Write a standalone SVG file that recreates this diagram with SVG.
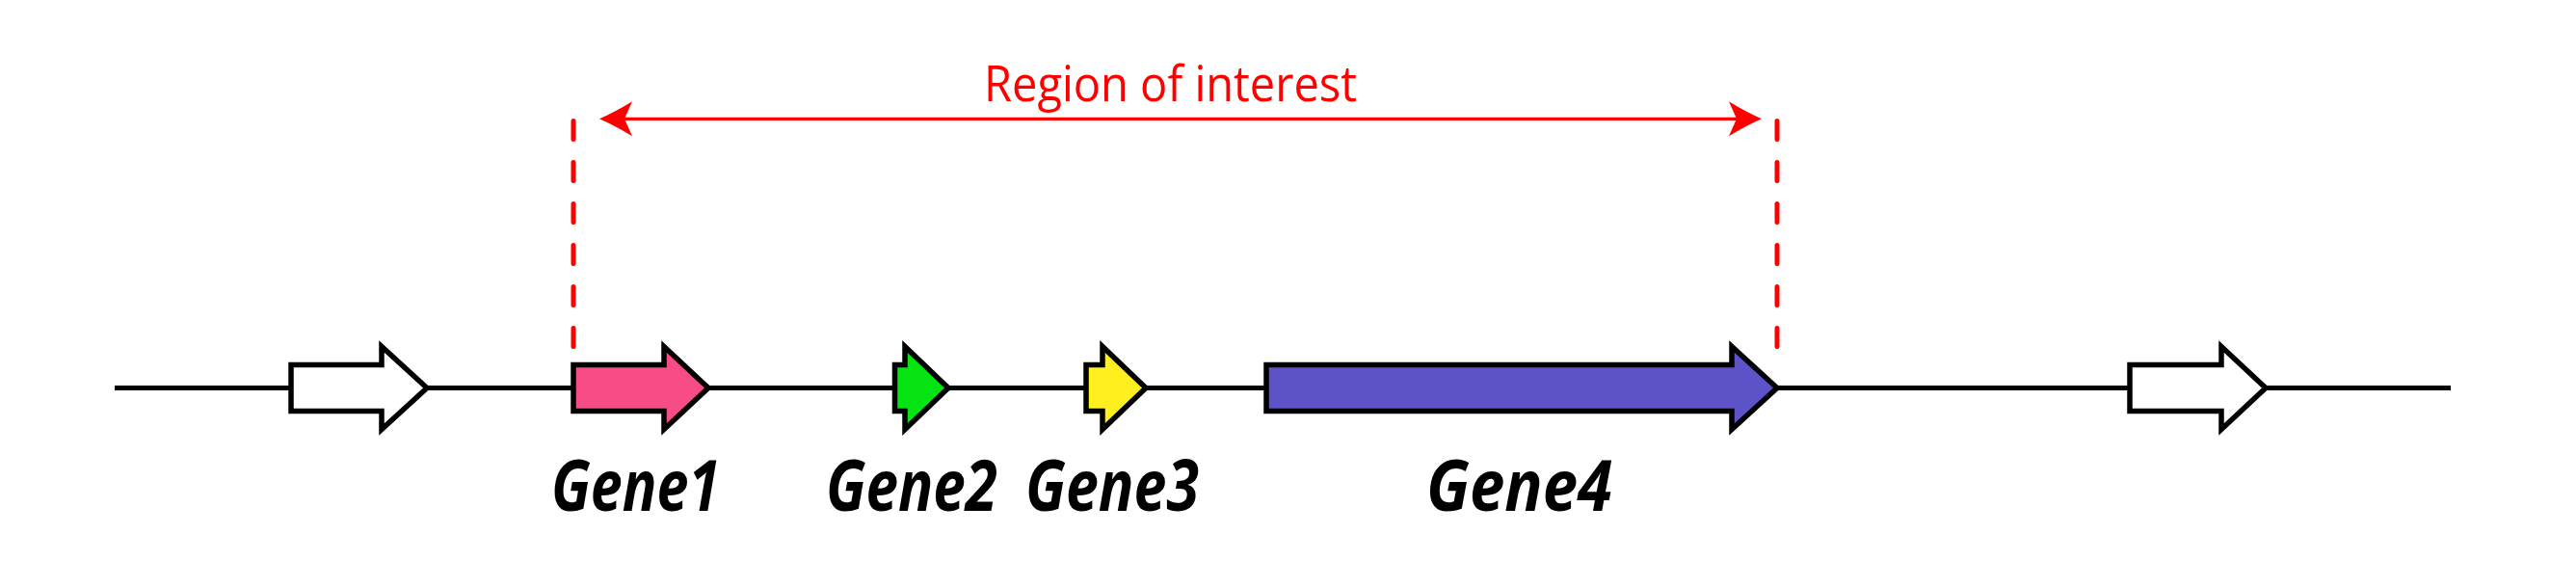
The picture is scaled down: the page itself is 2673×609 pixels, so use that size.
<svg xmlns="http://www.w3.org/2000/svg" width="2673" height="609" viewBox="0 0 2673 609">
  <style>
    .gene { stroke: #000; stroke-width: 5.5; stroke-linejoin: miter; stroke-miterlimit: 10; }
    .white { fill: #FFFFFF; }
    .pink { fill: #F84C86; }
    .green { fill: #05E312; }
    .yellow { fill: #FFEF1E; }
    .purple { fill: #5E52C8; }
    .backbone { stroke: #000; stroke-width: 5; fill: none; }
    .dash { stroke: #FF0000; stroke-width: 5; stroke-linecap: round; stroke-dasharray: 19 24; fill: none; }
    .dim { stroke: #FF0000; stroke-width: 3.3; fill: none; }
    .label { font-family: "Open Sans", "Noto Sans", "DejaVu Sans", sans-serif; font-style: italic; font-weight: 700; font-size: 73px; fill: #000; }
    .title { font-family: "Open Sans", "Noto Sans", "Liberation Sans", sans-serif; font-size: 52px; fill: #FF0000; }
  </style>
  <defs>
    <marker id="redHead" markerUnits="userSpaceOnUse" orient="auto-start-reverse" refX="0" refY="0" markerWidth="40" markerHeight="40" overflow="visible">
      <path d="M26,0 Q10,-7 -8,-18 L0,0 L-8,18 Q10,7 26,0 Z" fill="#FF0000"/>
    </marker>
  </defs>
  <rect width="2673" height="609" fill="#FFFFFF"/>

  <g id="connectors">
    <line class="backbone" x1="119" y1="402.5" x2="2543" y2="402.5"/>
    <line class="dim" x1="648" y1="123.3" x2="1802" y2="123.3" marker-start="url(#redHead)" marker-end="url(#redHead)"/>
    <line class="dash" x1="595" y1="125.5" x2="595" y2="360"/>
    <line class="dash" x1="1844" y1="125.5" x2="1844" y2="360"/>
  </g>

  <g id="region-label">
    <text class="title" x="1021" y="105" textLength="387" lengthAdjust="spacingAndGlyphs">Region of interest</text>
  </g>

  <g id="flank-left">
    <path class="gene white" d="M302,378.5 H396 V359.5 L443,402.5 L396,445.5 V426.5 H302 Z"/>
  </g>

  <g id="gene1">
    <path class="gene pink" d="M595,378.5 H689 V359.5 L735,402.5 L689,445.5 V426.5 H595 Z"/>
    <text class="label" x="572" y="530" textLength="175" lengthAdjust="spacingAndGlyphs">Gene1</text>
  </g>

  <g id="gene2">
    <path class="gene green" d="M928.5,378.5 H939 V359.5 L984,402.5 L939,445.5 V426.5 H928.5 Z"/>
    <text class="label" x="857" y="530" textLength="178" lengthAdjust="spacingAndGlyphs">Gene2</text>
  </g>

  <g id="gene3">
    <path class="gene yellow" d="M1127,378.5 H1144 V359.5 L1189,402.5 L1144,445.5 V426.5 H1127 Z"/>
    <text class="label" x="1064" y="530" textLength="180" lengthAdjust="spacingAndGlyphs">Gene3</text>
  </g>

  <g id="gene4">
    <path class="gene purple" d="M1314,378.5 H1797 V359.5 L1844,402.5 L1797,445.5 V426.5 H1314 Z"/>
    <text class="label" x="1480" y="530" textLength="193" lengthAdjust="spacingAndGlyphs">Gene4</text>
  </g>

  <g id="flank-right">
    <path class="gene white" d="M2210,378.5 H2305 V359.5 L2351,402.5 L2305,445.5 V426.5 H2210 Z"/>
  </g>
</svg>
